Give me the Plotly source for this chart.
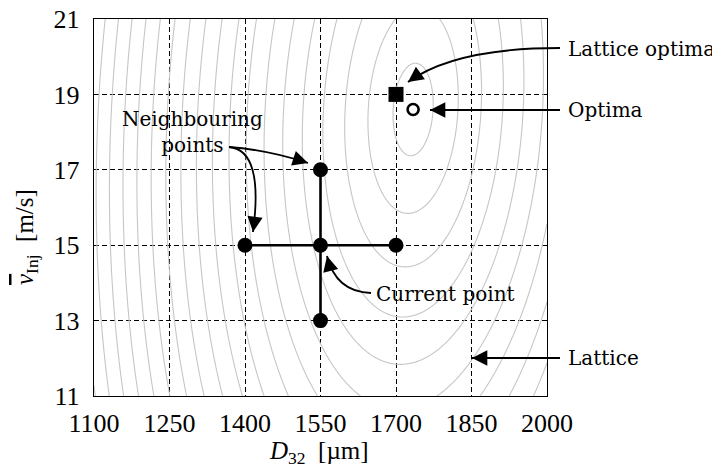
import numpy as np
import plotly.graph_objects as go

# -----------------------------------------------------------------------
# Data
# -----------------------------------------------------------------------
x_ticks = [1100, 1250, 1400, 1550, 1700, 1850, 2000]
y_ticks = [11, 13, 15, 17, 19, 21]

# current point and its neighbours on the lattice
current_x, current_y = 1550, 15
neigh_x = [1550, 1400, 1700, 1550]
neigh_y = [17, 15, 15, 13]

# cross connecting neighbours
cross_h_x, cross_h_y = [1400, 1700], [15, 15]
cross_v_x, cross_v_y = [1550, 1550], [13, 17]

lattice_opt_x, lattice_opt_y = 1700, 19
opt_x, opt_y = 1734, 18.6

# -----------------------------------------------------------------------
# Layout constants (page has an 8px body margin)
# -----------------------------------------------------------------------
PAGE = 8
W, H = 720 - PAGE, 469 - PAGE
L, R, T, B = 94 - PAGE, 173, 19 - PAGE, 73
PW, PH = W - L - R, H - T - B
X_RANGE = [1100, 2000]
Y_RANGE = [11, 21]

TICK_FONT = "Liberation Serif"
TEXT_FONT = "DejaVu Serif"
GRAY = "#c6c6c6"


def paper(px, py):
    """pixel position in the screenshot -> paper coordinates"""
    return (px - PAGE - L) / PW, 1 - (py - PAGE - T) / PH


# objective surface drawn as background contours
sx = PW / (X_RANGE[1] - X_RANGE[0])   # px per um
sy = PH / (Y_RANGE[1] - Y_RANGE[0])   # px per m/s
ASPECT = 2.3
TILT = 0.05
CURV = 0.0018

gx = np.linspace(X_RANGE[0], X_RANGE[1], 451)
gy = np.linspace(Y_RANGE[0], Y_RANGE[1], 377)
XX, YY = np.meshgrid(gx, gy)
dx = (XX - opt_x) * sx
dy = -(YY - opt_y) * sy
q = dx ** 2 + 2 * TILT * dx * dy + dy ** 2 / ASPECT ** 2
r = np.sqrt(q)
zz = r + CURV * r ** 2

fig = go.Figure()

fig.add_trace(go.Contour(
    x=gx, y=gy, z=zz, autocontour=False,
    contours=dict(coloring="lines", start=20.7, end=900, size=27.8),
    colorscale=[[0, GRAY], [1, GRAY]],
    line=dict(width=1.1, smoothing=1),
    showscale=False, hoverinfo="skip",
))

for xs, ys in [(cross_h_x, cross_h_y), (cross_v_x, cross_v_y)]:
    fig.add_trace(go.Scatter(x=xs, y=ys, mode="lines",
                             line=dict(color="black", width=2.6),
                             showlegend=False, hoverinfo="skip"))

fig.add_trace(go.Scatter(
    x=neigh_x + [current_x], y=neigh_y + [current_y], mode="markers",
    marker=dict(color="black", size=15, line=dict(width=0)),
    showlegend=False,
))
fig.add_trace(go.Scatter(
    x=[lattice_opt_x], y=[lattice_opt_y], mode="markers",
    marker=dict(color="black", symbol="square", size=15, line=dict(width=0)),
    showlegend=False,
))
fig.add_trace(go.Scatter(
    x=[opt_x], y=[opt_y], mode="markers",
    marker=dict(color="white", symbol="circle", size=11,
                line=dict(color="black", width=2.6)),
    showlegend=False,
))

axis_common = dict(
    showline=True, mirror=True, linecolor="black", linewidth=1.4,
    showgrid=True, gridcolor="black", gridwidth=1, griddash="5px,3px",
    zeroline=False, ticks="", automargin=False, ticklabeloverflow="allow",
    tickfont=dict(family=TICK_FONT, size=26, color="black"),
)
fig.update_xaxes(range=X_RANGE, tickvals=x_ticks, ticklabelstandoff=4, **axis_common)
fig.update_yaxes(range=Y_RANGE, tickvals=y_ticks, ticklabelstandoff=8, **axis_common)

# -----------------------------------------------------------------------
# Labels and arrows
# -----------------------------------------------------------------------
annotations = []
shapes = []


def label(text, px, py, xanchor="left", size=20):
    x, y = paper(px, py)
    annotations.append(dict(text=text, x=x, y=y, xref="paper", yref="paper",
                            xanchor=xanchor, yanchor="middle", showarrow=False,
                            font=dict(family=TEXT_FONT, size=size, color="black")))


def head(tip, back):
    """arrow head at tip, oriented from back (pixel coordinates)"""
    x, y = paper(*tip)
    annotations.append(dict(text=" ", x=x, y=y, xref="paper", yref="paper",
                            ax=back[0] - tip[0], ay=back[1] - tip[1],
                            showarrow=True, arrowhead=2, arrowsize=1.7,
                            arrowwidth=1.8, arrowcolor="black", standoff=0,
                            borderpad=0, font=dict(size=1)))


def curve(p0, c, p1):
    a = paper(*p0)
    b = paper(*c)
    d = paper(*p1)
    shapes.append(dict(type="path", xref="paper", yref="paper",
                       path=f"M {a[0]},{a[1]} Q {b[0]},{b[1]} {d[0]},{d[1]}",
                       line=dict(color="black", width=1.8)))


def arrow_to(start, ctrl, tip):
    curve(start, ctrl, tip)
    v = np.array(ctrl) - np.array(tip)
    v = v / np.linalg.norm(v) * 12
    head(tip, (tip[0] + v[0], tip[1] + v[1]))


label("Lattice optima", 566, 49)
arrow_to((560, 48), (455, 48), (408, 82))

label("Optima", 566, 110)
arrow_to((560, 110), (500, 110), (430, 110))

label("Neighbouring<br>points", 192, 132, xanchor="center")
arrow_to((229, 147), (268, 150), (308, 163))
arrow_to((229, 147), (264, 150), (253, 232))

label("Current point", 374, 294)
arrow_to((371, 293), (336, 292), (327, 256))

label("Lattice", 566, 358)
arrow_to((560, 358), (520, 358), (472, 358))

# axis titles
tx, ty = paper(319, 452)
annotations.append(dict(text="<i>D</i><sub>32</sub>  [µm]", x=tx, y=ty,
                        xref="paper", yref="paper", showarrow=False,
                        xanchor="center", yanchor="middle",
                        font=dict(family=TICK_FONT, size=25, color="black")))
tx, ty = paper(26, 237)
annotations.append(dict(
    text="<span style='text-decoration:overline'><i>v</i></span><sub>Inj</sub>  [m/s]",
    x=tx, y=ty, xref="paper", yref="paper", showarrow=False, textangle=-90,
    xanchor="center", yanchor="middle",
    font=dict(family=TICK_FONT, size=25, color="black")))

fig.update_layout(
    width=W, height=H,
    margin=dict(l=L, r=R, t=T, b=B),
    plot_bgcolor="white", paper_bgcolor="white",
    showlegend=False,
    annotations=annotations, shapes=shapes,
)

fig.write_html("out.html")
